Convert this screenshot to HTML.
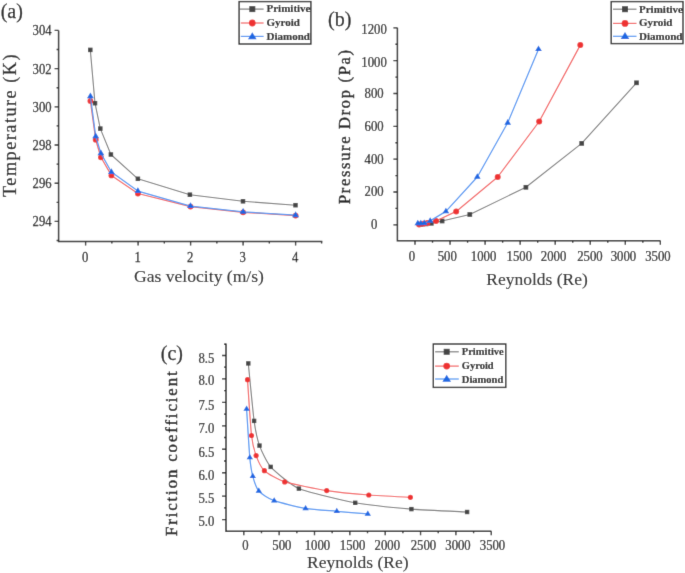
<!DOCTYPE html>
<html><head><meta charset="utf-8"><style>
html,body{margin:0;padding:0;background:#fff;}
svg{display:block;}
text{font-family:"Liberation Serif", serif;}
</style></head><body>
<svg width="685" height="573" viewBox="0 0 685 573">
<defs><filter id="soft" x="0" y="0" width="685" height="573" filterUnits="userSpaceOnUse"><feConvolveMatrix order="3" kernelMatrix="0.00864 0.07567 0.00864 0.07567 0.66279 0.07567 0.00864 0.07567 0.00864" edgeMode="duplicate" preserveAlpha="false"/></filter></defs>
<g filter="url(#soft)">
<rect width="685" height="573" fill="#fff"/>
<path d="M58.6,30.4 L58.6,241.4 L322.3,241.4" fill="none" stroke="#262626" stroke-width="1.5" stroke-linecap="butt" stroke-linejoin="miter"/>
<path d="M54.6,221.4 H58.6 M54.6,183.2 H58.6 M54.6,145 H58.6 M54.6,106.8 H58.6 M54.6,68.6 H58.6 M54.6,30.4 H58.6 M56.6,240.5 H58.6 M56.6,202.3 H58.6 M56.6,164.1 H58.6 M56.6,125.9 H58.6 M56.6,87.7 H58.6 M56.6,49.5 H58.6 " stroke="#262626" stroke-width="1.35" fill="none"/>
<path d="M85.6,241.4 V245.4 M138.1,241.4 V245.4 M190.6,241.4 V245.4 M243.1,241.4 V245.4 M295.6,241.4 V245.4 M111.85,241.4 V243.4 M164.35,241.4 V243.4 M216.85,241.4 V243.4 M269.35,241.4 V243.4 M321.6,241.4 V243.4 " stroke="#262626" stroke-width="1.35" fill="none"/>
<text transform="translate(51.6,226.35) scale(0.905,1)" font-size="14" text-anchor="end" font-weight="normal" fill="#1a1a1a" stroke="#1a1a1a" stroke-width="0.25">294</text>
<text transform="translate(51.6,188.15) scale(0.905,1)" font-size="14" text-anchor="end" font-weight="normal" fill="#1a1a1a" stroke="#1a1a1a" stroke-width="0.25">296</text>
<text transform="translate(51.6,149.95) scale(0.905,1)" font-size="14" text-anchor="end" font-weight="normal" fill="#1a1a1a" stroke="#1a1a1a" stroke-width="0.25">298</text>
<text transform="translate(51.6,111.75) scale(0.905,1)" font-size="14" text-anchor="end" font-weight="normal" fill="#1a1a1a" stroke="#1a1a1a" stroke-width="0.25">300</text>
<text transform="translate(51.6,73.55) scale(0.905,1)" font-size="14" text-anchor="end" font-weight="normal" fill="#1a1a1a" stroke="#1a1a1a" stroke-width="0.25">302</text>
<text transform="translate(51.6,35.35) scale(0.905,1)" font-size="14" text-anchor="end" font-weight="normal" fill="#1a1a1a" stroke="#1a1a1a" stroke-width="0.25">304</text>
<text transform="translate(85.2,261.8) scale(0.905,1)" font-size="14" text-anchor="middle" font-weight="normal" fill="#1a1a1a" stroke="#1a1a1a" stroke-width="0.25">0</text>
<text transform="translate(137.7,261.8) scale(0.905,1)" font-size="14" text-anchor="middle" font-weight="normal" fill="#1a1a1a" stroke="#1a1a1a" stroke-width="0.25">1</text>
<text transform="translate(190.2,261.8) scale(0.905,1)" font-size="14" text-anchor="middle" font-weight="normal" fill="#1a1a1a" stroke="#1a1a1a" stroke-width="0.25">2</text>
<text transform="translate(242.7,261.8) scale(0.905,1)" font-size="14" text-anchor="middle" font-weight="normal" fill="#1a1a1a" stroke="#1a1a1a" stroke-width="0.25">3</text>
<text transform="translate(295.2,261.8) scale(0.905,1)" font-size="14" text-anchor="middle" font-weight="normal" fill="#1a1a1a" stroke="#1a1a1a" stroke-width="0.25">4</text>
<text transform="translate(0.7,17.8)" font-size="20" text-anchor="start" font-weight="normal" fill="#1a1a1a" stroke="#1a1a1a" stroke-width="0.25">(a)</text>
<text transform="translate(16,197) rotate(-90)" font-size="18.2" text-anchor="start" font-weight="normal" fill="#1a1a1a" textLength="142.5" lengthAdjust="spacing" stroke="#1a1a1a" stroke-width="0.25">Temperature (K)</text>
<text transform="translate(134,281.5)" font-size="17.6" text-anchor="start" font-weight="normal" fill="#1a1a1a" stroke="#1a1a1a" stroke-width="0.12">Gas velocity (m/s)</text>
<path d="M90.3,49.9 L95,103.2 L100.3,128.6 L110.9,154.5 L137.9,178.8 L189.9,194.7 L243,201.3 L295.5,205.2" fill="none" stroke="#7a7a7a" stroke-width="1.1" stroke-linejoin="round"/>
<rect x="88.05" y="47.65" width="4.5" height="4.5" fill="#444444"/>
<rect x="92.75" y="100.95" width="4.5" height="4.5" fill="#444444"/>
<rect x="98.05" y="126.35" width="4.5" height="4.5" fill="#444444"/>
<rect x="108.65" y="152.25" width="4.5" height="4.5" fill="#444444"/>
<rect x="135.65" y="176.55" width="4.5" height="4.5" fill="#444444"/>
<rect x="187.65" y="192.45" width="4.5" height="4.5" fill="#444444"/>
<rect x="240.75" y="199.05" width="4.5" height="4.5" fill="#444444"/>
<rect x="293.25" y="202.95" width="4.5" height="4.5" fill="#444444"/>
<path d="M90.4,100.9 L95.7,139.7 L100.9,157.3 L111.4,175.4 L137.9,193.5 L190.5,206.6 L243.1,212.3 L295.6,215.6" fill="none" stroke="#f36262" stroke-width="1.25" stroke-linejoin="round"/>
<circle cx="90.4" cy="100.9" r="2.9" fill="#ee3333"/>
<circle cx="95.7" cy="139.7" r="2.9" fill="#ee3333"/>
<circle cx="100.9" cy="157.3" r="2.9" fill="#ee3333"/>
<circle cx="111.4" cy="175.4" r="2.9" fill="#ee3333"/>
<circle cx="137.9" cy="193.5" r="2.9" fill="#ee3333"/>
<circle cx="190.5" cy="206.6" r="2.9" fill="#ee3333"/>
<circle cx="243.1" cy="212.3" r="2.9" fill="#ee3333"/>
<circle cx="295.6" cy="215.6" r="2.9" fill="#ee3333"/>
<path d="M90.4,96.3 L95.7,136.4 L100.9,153.3 L111.4,172 L137.9,191.1 L190.5,206.1 L243.1,211.8 L295.6,215.2" fill="none" stroke="#5096f2" stroke-width="1.25" stroke-linejoin="round"/>
<path d="M90.4,92.43 L93.8,98.23 L87,98.23 Z" fill="#1a68e2"/>
<path d="M95.7,132.53 L99.1,138.33 L92.3,138.33 Z" fill="#1a68e2"/>
<path d="M100.9,149.43 L104.3,155.23 L97.5,155.23 Z" fill="#1a68e2"/>
<path d="M111.4,168.13 L114.8,173.93 L108,173.93 Z" fill="#1a68e2"/>
<path d="M137.9,187.23 L141.3,193.03 L134.5,193.03 Z" fill="#1a68e2"/>
<path d="M190.5,202.23 L193.9,208.03 L187.1,208.03 Z" fill="#1a68e2"/>
<path d="M243.1,207.93 L246.5,213.73 L239.7,213.73 Z" fill="#1a68e2"/>
<path d="M295.6,211.33 L299,217.13 L292.2,217.13 Z" fill="#1a68e2"/>
<rect x="239.1" y="1.6" width="71.8" height="42.4" fill="#fff" stroke="#262626" stroke-width="1.4"/>
<path d="M239.6,9.1 H263.6" stroke="#7a7a7a" stroke-width="1.2"/>
<rect x="249.3" y="6.1" width="6" height="6" fill="#444444"/>
<text transform="translate(266.5,12.4)" font-size="11" text-anchor="start" font-weight="bold" fill="#1a1a1a" stroke="#1a1a1a" stroke-width="0.15">Primitive</text>
<path d="M240.8,23 H263.6" stroke="#f36262" stroke-width="1.2"/>
<circle cx="252.3" cy="23" r="3.4" fill="#ee3333"/>
<text transform="translate(266.5,26)" font-size="11" text-anchor="start" font-weight="bold" fill="#1a1a1a" stroke="#1a1a1a" stroke-width="0.15">Gyroid</text>
<path d="M240.8,36.4 H263.6" stroke="#5096f2" stroke-width="1.2"/>
<path d="M252.3,32.13 L256.6,39.13 L248,39.13 Z" fill="#1a68e2"/>
<text transform="translate(266.5,39.6)" font-size="11" text-anchor="start" font-weight="bold" fill="#1a1a1a" stroke="#1a1a1a" stroke-width="0.15">Diamond</text>
<path d="M397.4,27.8 L397.4,240.8 L660.4,240.8" fill="none" stroke="#262626" stroke-width="1.5" stroke-linecap="butt" stroke-linejoin="miter"/>
<path d="M393.4,224.8 H397.4 M393.4,191.97 H397.4 M393.4,159.13 H397.4 M393.4,126.3 H397.4 M393.4,93.46 H397.4 M393.4,60.63 H397.4 M393.4,27.8 H397.4 M395.4,208.38 H397.4 M395.4,175.55 H397.4 M395.4,142.72 H397.4 M395.4,109.88 H397.4 M395.4,77.05 H397.4 M395.4,44.21 H397.4 " stroke="#262626" stroke-width="1.35" fill="none"/>
<path d="M415,240.8 V244.8 M450.05,240.8 V244.8 M485.1,240.8 V244.8 M520.15,240.8 V244.8 M555.2,240.8 V244.8 M590.25,240.8 V244.8 M625.3,240.8 V244.8 M660.35,240.8 V244.8 M432.52,240.8 V242.8 M467.57,240.8 V242.8 M502.62,240.8 V242.8 M537.67,240.8 V242.8 M572.73,240.8 V242.8 M607.77,240.8 V242.8 M642.83,240.8 V242.8 " stroke="#262626" stroke-width="1.35" fill="none"/>
<text transform="translate(374.1,34.25) scale(0.91,1)" font-size="14" text-anchor="middle" font-weight="normal" fill="#1a1a1a" stroke="#1a1a1a" stroke-width="0.25">1200</text>
<text transform="translate(374.1,66.65) scale(0.91,1)" font-size="14" text-anchor="middle" font-weight="normal" fill="#1a1a1a" stroke="#1a1a1a" stroke-width="0.25">1000</text>
<text transform="translate(374.1,98.35) scale(0.91,1)" font-size="14" text-anchor="middle" font-weight="normal" fill="#1a1a1a" stroke="#1a1a1a" stroke-width="0.25">800</text>
<text transform="translate(374.1,131.45) scale(0.91,1)" font-size="14" text-anchor="middle" font-weight="normal" fill="#1a1a1a" stroke="#1a1a1a" stroke-width="0.25">600</text>
<text transform="translate(374.1,163.75) scale(0.91,1)" font-size="14" text-anchor="middle" font-weight="normal" fill="#1a1a1a" stroke="#1a1a1a" stroke-width="0.25">400</text>
<text transform="translate(374.1,196.45) scale(0.91,1)" font-size="14" text-anchor="middle" font-weight="normal" fill="#1a1a1a" stroke="#1a1a1a" stroke-width="0.25">200</text>
<text transform="translate(374.1,228.75) scale(0.91,1)" font-size="14" text-anchor="middle" font-weight="normal" fill="#1a1a1a" stroke="#1a1a1a" stroke-width="0.25">0</text>
<text transform="translate(412,261) scale(0.91,1)" font-size="14" text-anchor="middle" font-weight="normal" fill="#1a1a1a" stroke="#1a1a1a" stroke-width="0.25">0</text>
<text transform="translate(447.2,261) scale(0.91,1)" font-size="14" text-anchor="middle" font-weight="normal" fill="#1a1a1a" stroke="#1a1a1a" stroke-width="0.25">500</text>
<text transform="translate(483.6,261) scale(0.91,1)" font-size="14" text-anchor="middle" font-weight="normal" fill="#1a1a1a" stroke="#1a1a1a" stroke-width="0.25">1000</text>
<text transform="translate(519.3,261) scale(0.91,1)" font-size="14" text-anchor="middle" font-weight="normal" fill="#1a1a1a" stroke="#1a1a1a" stroke-width="0.25">1500</text>
<text transform="translate(553.6,261) scale(0.91,1)" font-size="14" text-anchor="middle" font-weight="normal" fill="#1a1a1a" stroke="#1a1a1a" stroke-width="0.25">2000</text>
<text transform="translate(589.9,261) scale(0.91,1)" font-size="14" text-anchor="middle" font-weight="normal" fill="#1a1a1a" stroke="#1a1a1a" stroke-width="0.25">2500</text>
<text transform="translate(623.4,261) scale(0.91,1)" font-size="14" text-anchor="middle" font-weight="normal" fill="#1a1a1a" stroke="#1a1a1a" stroke-width="0.25">3000</text>
<text transform="translate(657.9,261) scale(0.91,1)" font-size="14" text-anchor="middle" font-weight="normal" fill="#1a1a1a" stroke="#1a1a1a" stroke-width="0.25">3500</text>
<text transform="translate(328,26)" font-size="20" text-anchor="start" font-weight="normal" fill="#1a1a1a" stroke="#1a1a1a" stroke-width="0.25">(b)</text>
<text transform="translate(350.3,204) rotate(-90)" font-size="16.4" text-anchor="start" font-weight="normal" fill="#1a1a1a" textLength="154" lengthAdjust="spacing" stroke="#1a1a1a" stroke-width="0.45">Pressure Drop (Pa)</text>
<text transform="translate(486.3,285.3)" font-size="17.5" text-anchor="start" font-weight="normal" fill="#1a1a1a" stroke="#1a1a1a" stroke-width="0.12">Reynolds (Re)</text>
<path d="M420.5,224.4 L426.1,223.9 L431.3,223.3 L442.1,221 L469.8,214.5 L525.9,187.3 L581.7,143.4 L636.5,82.8" fill="none" stroke="#7a7a7a" stroke-width="1.1" stroke-linejoin="round"/>
<rect x="418.15" y="222.05" width="4.7" height="4.7" fill="#444444"/>
<rect x="423.75" y="221.55" width="4.7" height="4.7" fill="#444444"/>
<rect x="428.95" y="220.95" width="4.7" height="4.7" fill="#444444"/>
<rect x="439.75" y="218.65" width="4.7" height="4.7" fill="#444444"/>
<rect x="467.45" y="212.15" width="4.7" height="4.7" fill="#444444"/>
<rect x="523.55" y="184.95" width="4.7" height="4.7" fill="#444444"/>
<rect x="579.35" y="141.05" width="4.7" height="4.7" fill="#444444"/>
<rect x="634.15" y="80.45" width="4.7" height="4.7" fill="#444444"/>
<path d="M419.1,224.5 L423.3,223.8 L427.4,223 L436,221 L456.2,211.4 L497.7,177 L539.2,121.5 L580.3,45.1" fill="none" stroke="#f36262" stroke-width="1.25" stroke-linejoin="round"/>
<circle cx="419.1" cy="224.5" r="3" fill="#ee3333"/>
<circle cx="423.3" cy="223.8" r="3" fill="#ee3333"/>
<circle cx="427.4" cy="223" r="3" fill="#ee3333"/>
<circle cx="436" cy="221" r="3" fill="#ee3333"/>
<circle cx="456.2" cy="211.4" r="3" fill="#ee3333"/>
<circle cx="497.7" cy="177" r="3" fill="#ee3333"/>
<circle cx="539.2" cy="121.5" r="3" fill="#ee3333"/>
<circle cx="580.3" cy="45.1" r="3" fill="#ee3333"/>
<path d="M417.8,223.4 L420.8,223.4 L424.3,223.2 L430.2,220.9 L445.9,211.4 L477.3,177 L507.7,122.8 L538.5,49.2" fill="none" stroke="#5096f2" stroke-width="1.25" stroke-linejoin="round"/>
<path d="M417.8,219.67 L421.1,225.27 L414.5,225.27 Z" fill="#1a68e2"/>
<path d="M420.8,219.67 L424.1,225.27 L417.5,225.27 Z" fill="#1a68e2"/>
<path d="M424.3,219.47 L427.6,225.07 L421,225.07 Z" fill="#1a68e2"/>
<path d="M430.2,217.17 L433.5,222.77 L426.9,222.77 Z" fill="#1a68e2"/>
<path d="M445.9,207.67 L449.2,213.27 L442.6,213.27 Z" fill="#1a68e2"/>
<path d="M477.3,173.27 L480.6,178.87 L474,178.87 Z" fill="#1a68e2"/>
<path d="M507.7,119.07 L511,124.67 L504.4,124.67 Z" fill="#1a68e2"/>
<path d="M538.5,45.47 L541.8,51.07 L535.2,51.07 Z" fill="#1a68e2"/>
<rect x="611.2" y="1.6" width="71.8" height="42" fill="#fff" stroke="#262626" stroke-width="1.4"/>
<path d="M613,9.2 H636.5" stroke="#7a7a7a" stroke-width="1.2"/>
<rect x="622" y="6.2" width="6" height="6" fill="#444444"/>
<text transform="translate(639,12.6)" font-size="11" text-anchor="start" font-weight="bold" fill="#1a1a1a" stroke="#1a1a1a" stroke-width="0.15">Primitive</text>
<path d="M613,23.4 H636.5" stroke="#f36262" stroke-width="1.2"/>
<circle cx="625" cy="23.4" r="3.4" fill="#ee3333"/>
<text transform="translate(639,25.8)" font-size="11" text-anchor="start" font-weight="bold" fill="#1a1a1a" stroke="#1a1a1a" stroke-width="0.15">Gyroid</text>
<path d="M613,36.3 H636.5" stroke="#5096f2" stroke-width="1.2"/>
<path d="M625,32.03 L629.3,39.03 L620.7,39.03 Z" fill="#1a68e2"/>
<text transform="translate(639,39.5)" font-size="11" text-anchor="start" font-weight="bold" fill="#1a1a1a" stroke="#1a1a1a" stroke-width="0.15">Diamond</text>
<path d="M226,343.5 L226,531.3 L491.4,531.3" fill="none" stroke="#262626" stroke-width="1.5" stroke-linecap="butt" stroke-linejoin="miter"/>
<path d="M222,519.6 H226 M222,496.15 H226 M222,472.7 H226 M222,449.25 H226 M222,425.8 H226 M222,402.35 H226 M222,378.9 H226 M222,355.45 H226 M224,507.88 H226 M224,484.43 H226 M224,460.98 H226 M224,437.53 H226 M224,414.08 H226 M224,390.62 H226 M224,367.18 H226 M224,344.2 H226 " stroke="#262626" stroke-width="1.35" fill="none"/>
<path d="M243.8,531.3 V535.3 M279.15,531.3 V535.3 M314.5,531.3 V535.3 M349.85,531.3 V535.3 M385.2,531.3 V535.3 M420.55,531.3 V535.3 M455.9,531.3 V535.3 M491.25,531.3 V535.3 M261.48,531.3 V533.3 M296.82,531.3 V533.3 M332.18,531.3 V533.3 M367.52,531.3 V533.3 M402.88,531.3 V533.3 M438.23,531.3 V533.3 M473.58,531.3 V533.3 " stroke="#262626" stroke-width="1.35" fill="none"/>
<text transform="translate(214.4,362.75) scale(0.91,1)" font-size="14" text-anchor="end" font-weight="normal" fill="#1a1a1a" stroke="#1a1a1a" stroke-width="0.25">8.5</text>
<text transform="translate(214.4,385.25) scale(0.91,1)" font-size="14" text-anchor="end" font-weight="normal" fill="#1a1a1a" stroke="#1a1a1a" stroke-width="0.25">8.0</text>
<text transform="translate(214.4,409.65) scale(0.91,1)" font-size="14" text-anchor="end" font-weight="normal" fill="#1a1a1a" stroke="#1a1a1a" stroke-width="0.25">7.5</text>
<text transform="translate(214.4,432.95) scale(0.91,1)" font-size="14" text-anchor="end" font-weight="normal" fill="#1a1a1a" stroke="#1a1a1a" stroke-width="0.25">7.0</text>
<text transform="translate(214.4,456.65) scale(0.91,1)" font-size="14" text-anchor="end" font-weight="normal" fill="#1a1a1a" stroke="#1a1a1a" stroke-width="0.25">6.5</text>
<text transform="translate(214.4,480.05) scale(0.91,1)" font-size="14" text-anchor="end" font-weight="normal" fill="#1a1a1a" stroke="#1a1a1a" stroke-width="0.25">6.0</text>
<text transform="translate(214.4,503.25) scale(0.91,1)" font-size="14" text-anchor="end" font-weight="normal" fill="#1a1a1a" stroke="#1a1a1a" stroke-width="0.25">5.5</text>
<text transform="translate(214.4,526.45) scale(0.91,1)" font-size="14" text-anchor="end" font-weight="normal" fill="#1a1a1a" stroke="#1a1a1a" stroke-width="0.25">5.0</text>
<text transform="translate(245.5,549.5) scale(0.91,1)" font-size="14" text-anchor="middle" font-weight="normal" fill="#1a1a1a" stroke="#1a1a1a" stroke-width="0.25">0</text>
<text transform="translate(281.9,549.5) scale(0.91,1)" font-size="14" text-anchor="middle" font-weight="normal" fill="#1a1a1a" stroke="#1a1a1a" stroke-width="0.25">500</text>
<text transform="translate(317.4,549.5) scale(0.91,1)" font-size="14" text-anchor="middle" font-weight="normal" fill="#1a1a1a" stroke="#1a1a1a" stroke-width="0.25">1000</text>
<text transform="translate(352.6,549.5) scale(0.91,1)" font-size="14" text-anchor="middle" font-weight="normal" fill="#1a1a1a" stroke="#1a1a1a" stroke-width="0.25">1500</text>
<text transform="translate(387.3,549.5) scale(0.91,1)" font-size="14" text-anchor="middle" font-weight="normal" fill="#1a1a1a" stroke="#1a1a1a" stroke-width="0.25">2000</text>
<text transform="translate(423.4,549.5) scale(0.91,1)" font-size="14" text-anchor="middle" font-weight="normal" fill="#1a1a1a" stroke="#1a1a1a" stroke-width="0.25">2500</text>
<text transform="translate(458,549.5) scale(0.91,1)" font-size="14" text-anchor="middle" font-weight="normal" fill="#1a1a1a" stroke="#1a1a1a" stroke-width="0.25">3000</text>
<text transform="translate(492.5,549.5) scale(0.91,1)" font-size="14" text-anchor="middle" font-weight="normal" fill="#1a1a1a" stroke="#1a1a1a" stroke-width="0.25">3500</text>
<text transform="translate(160.8,359.6)" font-size="20" text-anchor="start" font-weight="normal" fill="#1a1a1a" stroke="#1a1a1a" stroke-width="0.25">(c)</text>
<text transform="translate(177,536) rotate(-90)" font-size="16.8" text-anchor="start" font-weight="normal" fill="#1a1a1a" textLength="164.6" lengthAdjust="spacing" stroke="#1a1a1a" stroke-width="0.5">Friction coefficient</text>
<text transform="translate(307,568.3)" font-size="17.5" text-anchor="start" font-weight="normal" fill="#1a1a1a" stroke="#1a1a1a" stroke-width="0.12">Reynolds (Re)</text>
<path d="M248.3,363.4 C248.88,369.15 252.98,412.68 254.1,420.9 C255.22,429.12 257.84,441 259.5,445.6 C261.16,450.2 266.76,462.6 270.7,466.9 C274.64,471.2 290.45,485.01 298.9,488.6 C307.35,492.19 343.95,500.75 355.2,502.8 C366.45,504.85 400.21,508.18 411.4,509.1 C422.59,510.02 461.53,511.71 467.1,512" fill="none" stroke="#7a7a7a" stroke-width="1.1" stroke-linejoin="round"/>
<rect x="246.1" y="361.2" width="4.4" height="4.4" fill="#444444"/>
<rect x="251.9" y="418.7" width="4.4" height="4.4" fill="#444444"/>
<rect x="257.3" y="443.4" width="4.4" height="4.4" fill="#444444"/>
<rect x="268.5" y="464.7" width="4.4" height="4.4" fill="#444444"/>
<rect x="296.7" y="486.4" width="4.4" height="4.4" fill="#444444"/>
<rect x="353" y="500.6" width="4.4" height="4.4" fill="#444444"/>
<rect x="409.2" y="506.9" width="4.4" height="4.4" fill="#444444"/>
<rect x="464.9" y="509.8" width="4.4" height="4.4" fill="#444444"/>
<path d="M247.5,379.7 C247.9,385.28 250.64,427.91 251.5,435.5 C252.36,443.09 254.81,452.08 256.1,455.6 C257.39,459.12 261.54,468.07 264.4,470.7 C267.26,473.33 278.47,479.91 284.7,481.9 C290.93,483.89 318.29,489.29 326.7,490.6 C335.11,491.91 360.43,494.33 368.8,495 C377.17,495.67 406.24,497.07 410.4,497.3" fill="none" stroke="#f36262" stroke-width="1.2" stroke-linejoin="round"/>
<circle cx="247.5" cy="379.7" r="2.6" fill="#ee3333"/>
<circle cx="251.5" cy="435.5" r="2.6" fill="#ee3333"/>
<circle cx="256.1" cy="455.6" r="2.6" fill="#ee3333"/>
<circle cx="264.4" cy="470.7" r="2.6" fill="#ee3333"/>
<circle cx="284.7" cy="481.9" r="2.6" fill="#ee3333"/>
<circle cx="326.7" cy="490.6" r="2.6" fill="#ee3333"/>
<circle cx="368.8" cy="495" r="2.6" fill="#ee3333"/>
<circle cx="410.4" cy="497.3" r="2.6" fill="#ee3333"/>
<path d="M246.6,409 C246.97,414.66 249.08,449.65 249.8,457.5 C250.52,465.35 251.75,472.39 252.8,476.3 C253.85,480.21 256.3,488.15 258.8,491 C261.3,493.85 268.74,498.67 274.2,500.7 C279.66,502.73 298.3,507.16 305.6,508.4 C312.9,509.64 329.54,510.66 336.8,511.3 C344.06,511.94 364.18,513.6 367.8,513.9" fill="none" stroke="#5096f2" stroke-width="1.25" stroke-linejoin="round"/>
<path d="M246.6,405.53 L249.75,410.73 L243.45,410.73 Z" fill="#1a68e2"/>
<path d="M249.8,454.03 L252.95,459.23 L246.65,459.23 Z" fill="#1a68e2"/>
<path d="M252.8,472.83 L255.95,478.03 L249.65,478.03 Z" fill="#1a68e2"/>
<path d="M258.8,487.53 L261.95,492.73 L255.65,492.73 Z" fill="#1a68e2"/>
<path d="M274.2,497.23 L277.35,502.43 L271.05,502.43 Z" fill="#1a68e2"/>
<path d="M305.6,504.93 L308.75,510.13 L302.45,510.13 Z" fill="#1a68e2"/>
<path d="M336.8,507.83 L339.95,513.03 L333.65,513.03 Z" fill="#1a68e2"/>
<path d="M367.8,510.43 L370.95,515.63 L364.65,515.63 Z" fill="#1a68e2"/>
<rect x="433.3" y="344" width="72.5" height="43.4" fill="#fff" stroke="#262626" stroke-width="1.4"/>
<path d="M435.1,351.8 H458.8" stroke="#7a7a7a" stroke-width="1.2"/>
<rect x="443.7" y="348.8" width="6" height="6" fill="#444444"/>
<text transform="translate(461.8,355.2)" font-size="10.5" text-anchor="start" font-weight="bold" fill="#1a1a1a" stroke="#1a1a1a" stroke-width="0.15">Primitive</text>
<path d="M435.1,366.1 H458.8" stroke="#f36262" stroke-width="1.2"/>
<circle cx="446.7" cy="366.1" r="3.4" fill="#ee3333"/>
<text transform="translate(461.8,368.8)" font-size="10.5" text-anchor="start" font-weight="bold" fill="#1a1a1a" stroke="#1a1a1a" stroke-width="0.15">Gyroid</text>
<path d="M435.1,379 H458.8" stroke="#5096f2" stroke-width="1.2"/>
<path d="M446.7,374.73 L451,381.73 L442.4,381.73 Z" fill="#1a68e2"/>
<text transform="translate(461.8,382.8)" font-size="10.5" text-anchor="start" font-weight="bold" fill="#1a1a1a" stroke="#1a1a1a" stroke-width="0.15">Diamond</text>
</g>
</svg>
</body></html>
